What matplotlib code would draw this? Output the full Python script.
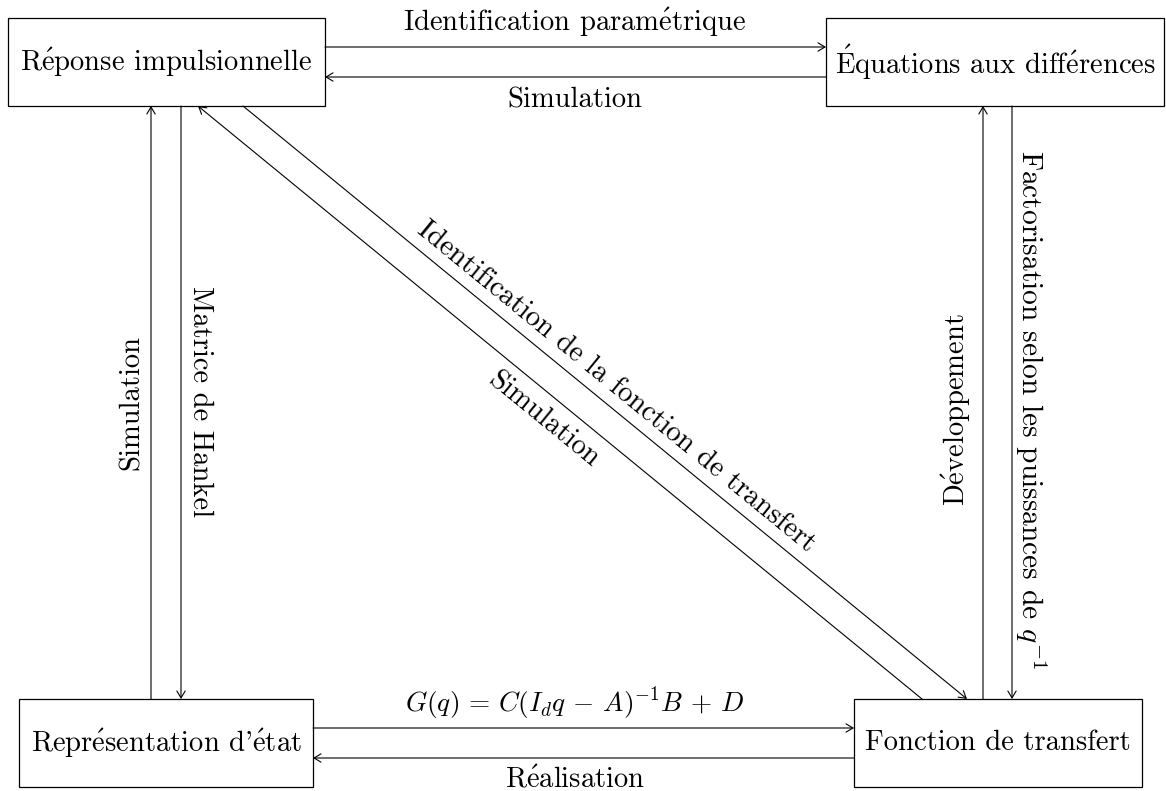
import matplotlib
matplotlib.use("Agg")
import matplotlib.pyplot as plt
from matplotlib.patches import Rectangle, FancyArrowPatch
import numpy as np

plt.rcParams['font.family'] = ['cmr10', 'DejaVu Serif']
plt.rcParams['mathtext.fontset'] = 'cm'
plt.rcParams['axes.unicode_minus'] = False

# boxes: label, left, top, right, bottom (pixel-like units, y down)
box_labels = ["Réponse impulsionnelle", "Équations aux différences",
              "Représentation d'état", "Fonction de transfert"]
box_left = [8, 826, 19, 854]
box_top = [18, 18, 699, 699]
box_right = [325, 1164, 313, 1142]
box_bottom = [106, 106, 787, 787]

# arrows: start and end points
arrow_start = [(325, 47), (826, 77), (313, 728), (854, 758),
               (151, 699), (181, 106), (983, 699), (1012, 106),
               (243, 106), (922, 699)]
arrow_end = [(826, 47), (325, 77), (854, 728), (313, 758),
             (151, 106), (181, 699), (983, 106), (1012, 699),
             (967, 699), (198, 106)]

diag = -np.degrees(np.arctan2(593, 724))

# edge labels: text, x, y, rotation, vertical anchor, size
edge_labels = ["Identification paramétrique", "Simulation",
               r"$G(q)\,=\,C(I_d q\,-\,A)^{-1}B\,+\,D$", "Réalisation",
               "Simulation", "Matrice de Hankel",
               "Développement", r"Factorisation selon les puissances de $q^{-1}$",
               "Identification de la fonction de transfert", "Simulation"]
label_x = [575, 575, 575, 575, 132, 200, 956, 1031, 616, 543]
label_y = [31, 107, 712, 787, 402, 402, 410, 410, 387, 420]
label_rot = [0, 0, 0, 0, 90, -90, 90, -90, diag, diag]
label_va = ['baseline'] * 4 + ['center'] * 6
label_fs = [20.6, 20.6, 19.6, 20.6, 20.6, 20.6, 20.6, 21.2, 20.8, 20.6]


def tex_accents(s):
    # cmr10 has no accented glyphs, use mathtext accents instead
    s = s.replace("é", r"$\mathrm{\acute{e}}$")
    s = s.replace("è", r"$\mathrm{\grave{e}}$")
    s = s.replace("É", r"$\mathrm{\acute{E}}$")
    return s


fig = plt.figure(figsize=(11.66, 7.91), dpi=100)
ax = fig.add_axes([0, 0, 1, 1])
ax.set_xlim(0, 1166)
ax.set_ylim(791, 0)
ax.axis('off')

fs = 20.6
for lab, l, t, r, b in zip(box_labels, box_left, box_top, box_right, box_bottom):
    ax.add_patch(Rectangle((l, t), r - l, b - t, fill=False, lw=0.9, ec='black'))
    ax.text((l + r) / 2, (t + b) / 2, tex_accents(lab), ha='center', va='center',
            fontsize=fs)

for p0, p1 in zip(arrow_start, arrow_end):
    ax.add_patch(FancyArrowPatch(p0, p1, arrowstyle='->,head_length=0.5,head_width=0.3',
                                 mutation_scale=10, lw=0.8, color='black',
                                 shrinkA=0, shrinkB=0))

for txt, x, y, rot, va, size in zip(edge_labels, label_x, label_y, label_rot,
                                    label_va, label_fs):
    ax.text(x, y, tex_accents(txt), ha='center', va=va, rotation=rot,
            rotation_mode='anchor', fontsize=size)

fig.savefig("out.png", dpi=100)
